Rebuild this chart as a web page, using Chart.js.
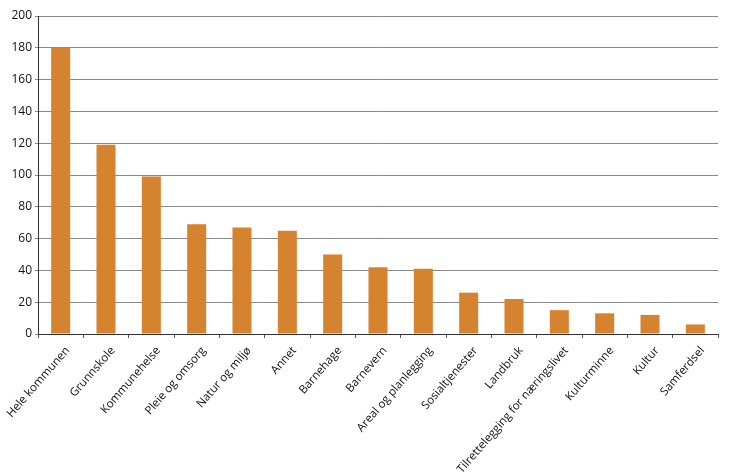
<!DOCTYPE html>
<html>
<head>
<meta charset="utf-8">
<script src="https://cdn.jsdelivr.net/npm/chart.js@4/dist/chart.umd.min.js"></script>
<style>
html,body{margin:0;padding:0;background:#fff;}
#wrap{width:730px;height:475px;position:relative;}
</style>
</head>
<body>
<div id="wrap"><canvas id="c"></canvas></div>
<script>
const categories = ["Hele kommunen","Grunnskole","Kommunehelse","Pleie og omsorg","Natur og miljø","Annet","Barnehage","Barnevern","Areal og planlegging","Sosialtjenester","Landbruk","Tilrettelegging for næringslivet","Kulturminne","Kultur","Samferdsel"];
const values = [180,119,99,69,67,65,50,42,41,26,22,15,13,12,6];
const yTicks = [0,20,40,60,80,100,120,140,160,180,200];

const FONT = "'Open Sans', 'Noto Sans', sans-serif";
new Chart(document.getElementById('c'), {
  type: 'bar',
  data: {
    labels: categories,
    datasets: [{
      data: values,
      backgroundColor: '#d6832f',
      borderWidth: 0,
      categoryPercentage: 1.0,
      barPercentage: 0.42
    }]
  },
  options: {
    responsive: true,
    maintainAspectRatio: false,
    animation: false,
    devicePixelRatio: 1,
    layout: { padding: { top: 16, right: 12, left: 0, bottom: 0 } },
    plugins: { legend: { display: false }, tooltip: { enabled: false } },
    scales: {
      x: {
        grid: { display: true, drawOnChartArea: false, drawTicks: true, tickLength: 4, color: '#555', offset: true },
        border: { display: true, color: '#333', width: 1 },
        ticks: {
          font: { family: FONT, size: 11.5 },
          color: '#111',
          maxRotation: 49,
          minRotation: 49,
          autoSkip: false,
          padding: 6,
          labelOffset: 7
        },
        afterFit: function(scale){ scale.height = 141; scale.paddingLeft = 0; scale.paddingRight = 0; }
      },
      y: {
        min: 0, max: 200,
        afterBuildTicks: function(scale){ scale.ticks = yTicks.map(v => ({value: v})); },
        grid: { color: '#888', lineWidth: 1, tickLength: 3, drawTicks: true },
        border: { display: true, color: '#333', width: 1 },
        ticks: {
          font: { family: FONT, size: 12 },
          color: '#111',
          padding: 3
        },
        afterFit: function(scale){ scale.width = 38; }
      }
    }
  }
});
</script>
</body>
</html>
